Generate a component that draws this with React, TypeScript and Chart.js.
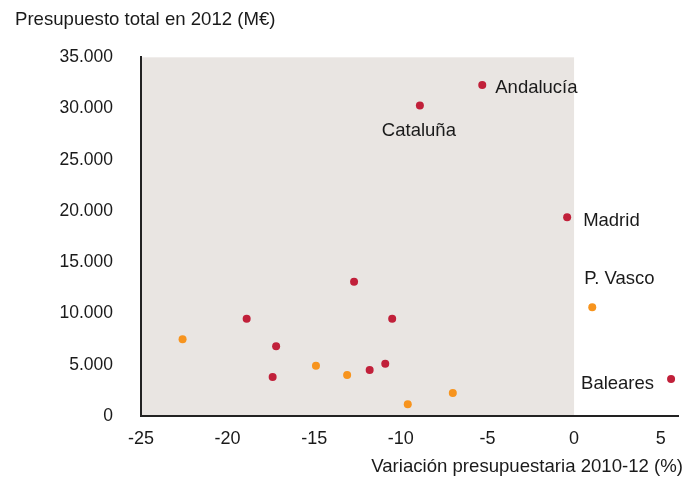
import React, { useEffect, useRef } from 'react';
import { Chart, registerables } from 'chart.js';

Chart.register(...registerables);

const redX = [-5.3, -8.9, -0.4, 5.6, -18.9, -17.2, -17.4, -12.7, -11.8, -10.9, -10.5];
const redY = [32300, 30300, 19400, 3600, 9500, 6800, 3800, 13100, 4500, 5100, 9500];
const orangeX = [1.05, -22.6, -14.9, -13.1, -9.6, -7.0];
const orangeY = [10600, 7500, 4900, 4000, 1150, 2250];

const yTitle = 'Presupuesto total en 2012 (M€)';
const xTitle = 'Variación presupuestaria 2010-12 (%)';
const labelNames = ['Andalucía', 'Cataluña', 'Madrid', 'P. Vasco', 'Baleares'];
// which dataset / point each name belongs to
const labelDataset = [0, 0, 0, 1, 0];
const labelIndex = [0, 1, 2, 0, 3];

const X_MIN = -25;
const X_MAX = 6;
const X_STEP = 5;
const Y_MIN = 0;
const Y_MAX = 35000;
const Y_STEP = 5000;
const SHADE_FROM = -25;
const SHADE_TO = 0;

const RED = '#c1203a';
const ORANGE = '#f7941e';
const SHADE = '#e9e5e2';
const TEXT = '#1a1a1a';
const FONT = "'Liberation Sans', Arial, Helvetica, sans-serif";

// label placement offsets (style only)
const labelStyle = [
  { dx: 13, dy: 3, align: 'left' },
  { dx: -1, dy: 25, align: 'center' },
  { dx: 16, dy: 4, align: 'left' },
  { dx: -8, dy: -28, align: 'left' },
  { dx: -17, dy: 5, align: 'right' },
];

const fmtThousands = (v: number) =>
  String(v).replace(/\B(?=(\d{3})+(?!\d))/g, '.');

export default function App() {
  const ref = useRef<HTMLCanvasElement | null>(null);

  useEffect(() => {
    document.body.style.margin = '0';
    const canvas = ref.current;
    if (!canvas) return;

    const shadePlugin = {
      id: 'shade',
      beforeDraw(chart: any) {
        const { ctx, chartArea, scales } = chart;
        const x0 = scales.x.getPixelForValue(SHADE_FROM);
        const x1 = scales.x.getPixelForValue(SHADE_TO);
        ctx.save();
        ctx.fillStyle = SHADE;
        ctx.fillRect(x0, chartArea.top, x1 - x0, chartArea.bottom - chartArea.top);
        ctx.restore();
      },
    };

    const labelPlugin = {
      id: 'pointLabels',
      afterDatasetsDraw(chart: any) {
        const { ctx } = chart;
        ctx.save();
        ctx.font = `18.5px ${FONT}`;
        ctx.fillStyle = TEXT;
        ctx.textBaseline = 'middle';
        labelNames.forEach((name, i) => {
          const el = chart.getDatasetMeta(labelDataset[i]).data[labelIndex[i]];
          if (!el) return;
          const st = labelStyle[i];
          ctx.textAlign = st.align;
          ctx.fillText(name, el.x + st.dx, el.y + st.dy);
        });
        // x axis title, right aligned near the canvas edge
        ctx.font = `18.6px ${FONT}`;
        ctx.textAlign = 'right';
        ctx.fillText(xTitle, chart.width - 17, chart.height - 11);
        ctx.restore();
      },
    };

    const chart = new Chart(canvas, {
      type: 'scatter',
      data: {
        datasets: [
          {
            data: redX.map((x, i) => ({ x, y: redY[i] })),
            backgroundColor: RED,
            borderWidth: 0,
            pointRadius: 4,
          },
          {
            data: orangeX.map((x, i) => ({ x, y: orangeY[i] })),
            backgroundColor: ORANGE,
            borderWidth: 0,
            pointRadius: 4,
          },
        ],
      },
      options: {
        animation: false,
        responsive: true,
        maintainAspectRatio: false,
        layout: { padding: { left: 15, right: 22, top: 0, bottom: 0 } },
        plugins: {
          legend: { display: false },
          tooltip: { enabled: false },
          title: {
            display: true,
            text: yTitle,
            align: 'start',
            color: TEXT,
            font: { family: FONT, size: 18.6, weight: 'normal' },
            padding: { top: 9, bottom: 26 },
          },
        },
        scales: {
          x: {
            type: 'linear',
            min: X_MIN,
            max: X_MAX,
            grid: { display: false, drawTicks: false },
            border: { display: true, color: '#222', width: 2 },
            ticks: {
              stepSize: X_STEP,
              includeBounds: false,
              color: TEXT,
              padding: 12,
              font: { family: FONT, size: 18 },
              callback: (v: any) => String(v),
            },
            title: { display: false },
            afterFit: (scale: any) => {
              scale.height = 62;
            },
          },
          y: {
            type: 'linear',
            min: Y_MIN,
            max: Y_MAX,
            grid: { display: false, drawTicks: false },
            border: { display: true, color: '#222', width: 2 },
            ticks: {
              stepSize: Y_STEP,
              color: TEXT,
              padding: 28,
              font: { family: FONT, size: 17.5 },
              callback: (v: any) => fmtThousands(Number(v)),
            },
            afterFit: (scale: any) => {
              scale.width = 126;
            },
          },
        },
      },
      plugins: [shadePlugin, labelPlugin],
    });

    return () => chart.destroy();
  }, []);

  return (
    <div style={{ position: 'absolute', left: 0, top: 0, width: 700, height: 478 }}>
      <canvas ref={ref} />
    </div>
  );
}
